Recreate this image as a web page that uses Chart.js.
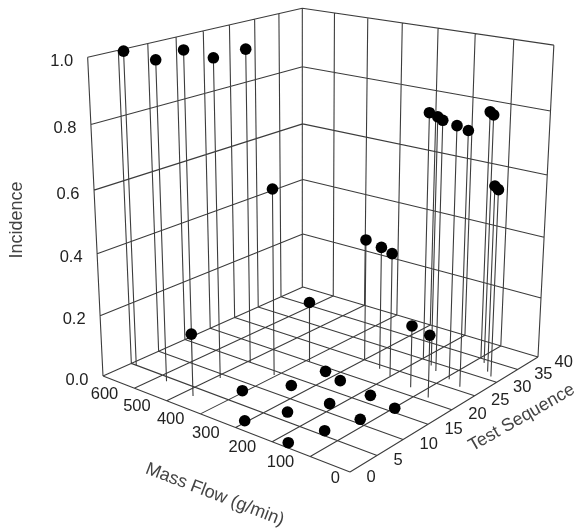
<!DOCTYPE html>
<html>
<head>
<meta charset="utf-8">
<title>Incidence</title>
<script src="https://cdn.jsdelivr.net/npm/chart.js@4"></script>
<style>
  html, body { margin: 0; background: #fff; }
  canvas { display: block; }
</style>
</head>
<body>
<canvas id="chart" width="576" height="531"></canvas>
<script>
// one entry per test run
let massFlow = [684, 570, 592, 489, 493, 406, 472, 390, 299, 243, 201, 197, 163, 138, 90, 50, 98, 78, 46, 26, 132, 73,
  407, 306, 341, 263, 172, 329, 273, 219, 148, 176, 123, 98];
let testSequence = [5, 4, 10, 9, 15, 14, 3, 20, 25, 24, 23, 30, 29, 28, 27, 26, 35, 34, 32, 31, 22, 21,
  8, 2, 13, 7, 1, 19, 18, 12, 6, 17, 11, 16];
let incidence = [1, 1, 1, 1, 1, 0.6, 0.2, 0.2, 0.4, 0.4, 0.4, 0.8, 0.8, 0.8, 0.8, 0.8, 0.8, 0.8, 0.6, 0.6, 0.2, 0.2,
  0, 0, 0, 0, 0, 0, 0, 0, 0, 0, 0, 0];

let massGrid = [0, 100, 200, 300, 400, 500, 600, 700];
let testGrid = [0, 5, 10, 15, 20, 25, 30, 35, 40];
let incidenceGrid = [0, 0.2, 0.4, 0.6, 0.8, 1];

let massLabels = [0, 100, 200, 300, 400, 500, 600];
let testLabels = [0, 5, 10, 15, 20, 25, 30, 35, 40];
let incidenceLabels = ['0.0', '0.2', '0.4', '0.6', '0.8', '1.0'];

let massMax = 700;
let testMax = 40;

// perspective camera fitted to the box corners, gives page x/y for a data point
let project = (mass, test, inc) => {
  let u = mass / massMax;
  let v = test / testMax;
  let px = 350 - 231.46 * u + 284.57 * v - 24.5 * inc;
  let py = 472 - 39.26 * u - 50.92 * v - 371.4 * inc;
  let pw = 1 + 0.1509 * u + 0.1795 * v - 0.078 * inc;
  return { x: px / pw, y: py / pw };
};

let gap = { x: NaN, y: NaN };
let segments = [];
let addLine = (from, to) => {
  segments.push(project(...from), project(...to), gap);
};

massGrid.forEach((m) => {
  addLine([m, 0, 0], [m, testMax, 0]);
  addLine([m, testMax, 0], [m, testMax, 1]);
});
testGrid.forEach((t) => {
  addLine([0, t, 0], [massMax, t, 0]);
  addLine([massMax, t, 0], [massMax, t, 1]);
});
incidenceGrid.slice(1).forEach((z) => {
  addLine([massMax, 0, z], [massMax, testMax, z]);
  addLine([massMax, testMax, z], [0, testMax, z]);
});

let points = massFlow.map((m, i) => project(m, testSequence[i], incidence[i]));
let drops = [];
massFlow.forEach((m, i) => {
  if (incidence[i] > 0) {
    drops.push(project(m, testSequence[i], incidence[i]), project(m, testSequence[i], 0), gap);
  }
});

let axisText = {
  id: 'axisText',
  afterDatasetsDraw(chart) {
    let ctx = chart.ctx;
    let sx = chart.scales.x;
    let sy = chart.scales.y;
    let at = (p, dx, dy) => ({ x: sx.getPixelForValue(p.x) + dx, y: sy.getPixelForValue(p.y) + dy });

    ctx.save();
    ctx.textBaseline = 'middle';
    ctx.fillStyle = '#222';
    ctx.font = '16.5px "Liberation Sans"';

    ctx.textAlign = 'right';
    massLabels.forEach((m) => {
      let p = at(project(m, 0, 0), m === 0 ? -10 : -16, 6);
      ctx.fillText(String(m), p.x, p.y);
    });
    incidenceLabels.forEach((label) => {
      let p = at(project(massMax, 0, parseFloat(label)), -14.5, 4);
      ctx.fillText(label, p.x, p.y);
    });

    ctx.textAlign = 'left';
    testLabels.forEach((t) => {
      let p = at(project(0, t, 0), 16.5, 5);
      ctx.fillText(String(t), p.x, p.y);
    });

    ctx.fillStyle = '#444';
    ctx.font = '18px "Liberation Sans"';
    ctx.textAlign = 'center';
    let title = (text, p, angle) => {
      ctx.save();
      ctx.translate(p.x, p.y);
      ctx.rotate(angle * Math.PI / 180);
      ctx.fillText(text, 0, 0);
      ctx.restore();
    };
    title('Incidence', at({ x: 17, y: 220 }, 0, 0), -90);
    title('Mass Flow (g/min)', at(project(massMax / 2, 0, 0), -3, 74), 21);
    title('Test Sequence', at(project(0, testMax / 2, 0), 70, 8), -29.7);
    ctx.restore();
  },
};

new Chart(document.getElementById('chart'), {
  type: 'scatter',
  data: {
    datasets: [
      { label: 'Incidence', data: points, pointRadius: 5.8, pointBackgroundColor: '#000', pointBorderWidth: 0 },
      { label: 'Drop lines', data: drops, showLine: true, spanGaps: false, pointRadius: 0, borderColor: '#3c3c3c', borderWidth: 1.1 },
      { label: 'Grid', data: segments, showLine: true, spanGaps: false, pointRadius: 0, borderColor: '#3c3c3c', borderWidth: 1.1 },
    ],
  },
  plugins: [axisText],
  options: {
    responsive: false,
    animation: false,
    layout: { padding: 0, autoPadding: false },
    scales: {
      x: { type: 'linear', display: false, min: 0, max: 576 },
      y: { type: 'linear', display: false, min: 0, max: 531, reverse: true },
    },
    plugins: {
      legend: { display: false },
      tooltip: { enabled: false },
    },
  },
});
</script>
</body>
</html>
